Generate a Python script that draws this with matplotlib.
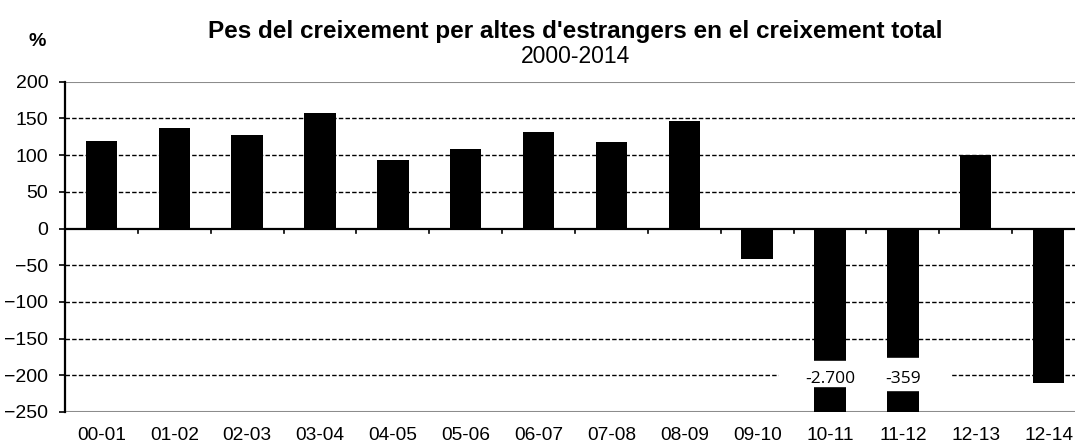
import matplotlib
matplotlib.use("Agg")
import matplotlib.pyplot as plt
from matplotlib.patches import Rectangle

periods = ["00-01", "01-02", "02-03", "03-04", "04-05", "05-06", "06-07",
           "07-08", "08-09", "09-10", "10-11", "11-12", "12-13", "12-14"]
values = [119, 137, 127, 157, 93, 108, 131, 118, 147, -42, -2700, -359, 100, -211]
yticks = [200, 150, 100, 50, 0, -50, -100, -150, -200, -250]
# labels for the two bars that run off the scale
break_labels = {10: "-2.700", 11: "-359"}

plt.rcParams["font.family"] = ["Liberation Sans", "DejaVu Sans"]

fig = plt.figure(figsize=(10.75, 4.47), dpi=100)
ax = fig.add_axes([65 / 1075, 1 - 412 / 447, 1020 / 1075, 330.3 / 447])

x = list(range(len(periods)))
ax.bar(x, values, width=0.43, color="black", zorder=3)

ax.set_xlim(-0.5, len(periods) - 0.5)
ax.set_ylim(-250, 200)

# dashed grid
for v in yticks:
    if v in (200, -250):
        ax.axhline(v, color="#8c8c8c", lw=1.5, zorder=1)
    elif v != 0:
        ax.axhline(v, color="black", lw=1.0, dashes=(3.2, 1.6), zorder=1)
ax.axhline(0, color="black", lw=1.6, zorder=4)

# axis break on the off-scale bars
ax.add_patch(Rectangle((9.3, -212), 2.33, 22, color="white", zorder=2))
ax.add_patch(Rectangle((9.7, -214.6), 0.6, 34.6, color="white", zorder=5))
ax.add_patch(Rectangle((10.7, -219.6), 0.6, 43.6, color="white", zorder=5))
for i, lab in break_labels.items():
    ax.text(i, -205, lab, ha="center", va="center", fontsize=12.5,
            family=["Open Sans", "DejaVu Sans"], zorder=6)

for s in ["top", "right", "bottom"]:
    ax.spines[s].set_visible(False)
ax.spines["left"].set_linewidth(1.6)

ax.set_yticks(yticks)
ax.tick_params(axis="y", length=4, width=1.2, pad=8, labelsize=14)

# category boundary ticks on the zero line
ax.set_xticks([i + 0.5 for i in x[:-1]])
ax.set_xticklabels([])
ax.tick_params(axis="x", length=0)
for i in x[:-1]:
    ax.plot([i + 0.5, i + 0.5], [0, -6], color="black", lw=1.2, zorder=4,
            clip_on=False)

for i, lab in zip(x, periods):
    ax.text(i, -0.045, lab, transform=ax.get_xaxis_transform(),
            ha="center", va="top", fontsize=13.8)

fig.text(575 / 1075, 1 - 38 / 447,
         "Pes del creixement per altes d'estrangers en el creixement total",
         ha="center", va="baseline", fontsize=17.5, fontweight="bold")
fig.text(575 / 1075, 1 - 63 / 447, "2000-2014",
         ha="center", va="baseline", fontsize=16.5)
fig.text(37 / 1075, 1 - 46 / 447, "%", ha="center", va="baseline",
         fontsize=14, fontweight="bold")

fig.savefig("out.png", dpi=100, facecolor="white")
